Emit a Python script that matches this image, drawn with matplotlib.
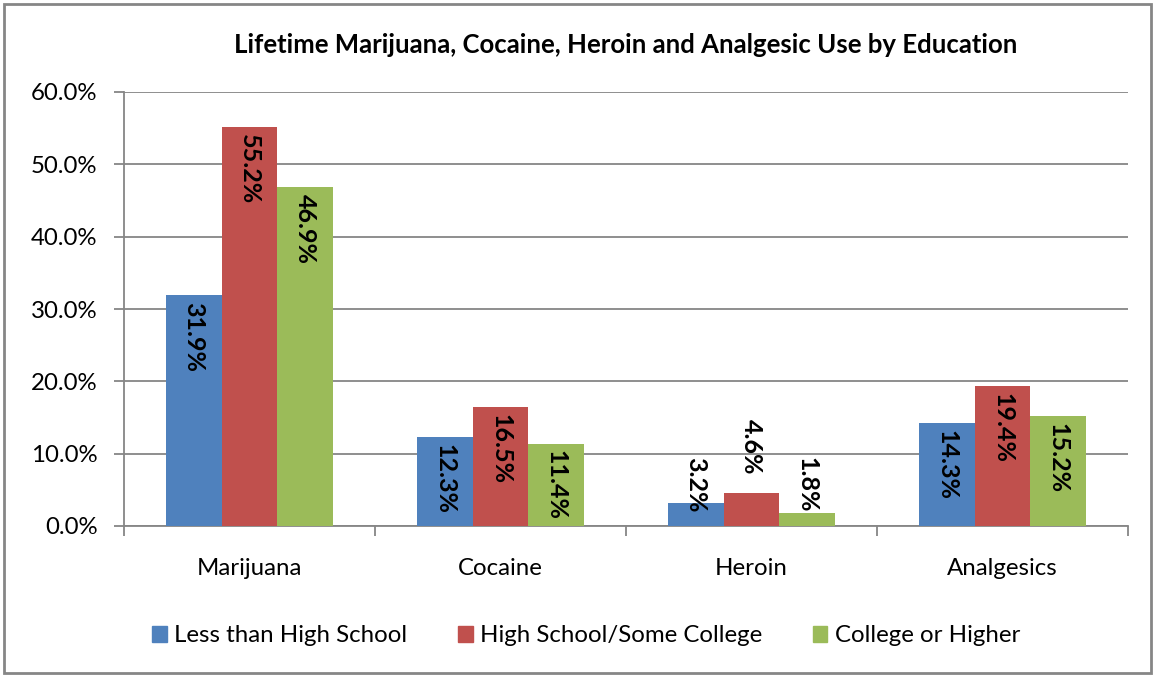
import matplotlib.pyplot as plt
from matplotlib.patches import Patch, Rectangle
import numpy as np

plt.rcParams['font.family'] = ['Lato', 'DejaVu Sans']

categories = ['Marijuana', 'Cocaine', 'Heroin', 'Analgesics']
series_names = ['Less than High School', 'High School/Some College', 'College or Higher']
less_hs = [31.9, 12.3, 3.2, 14.3]
hs_some_college = [55.2, 16.5, 4.6, 19.4]
college_higher = [46.9, 11.4, 1.8, 15.2]
yticks = [0, 10, 20, 30, 40, 50, 60]

colors = ['#4F81BD', '#C0504D', '#9BBB59']
grid_c = '#868686'
fs = 17.3
lab_fs = 18

fig = plt.figure(figsize=(11.55, 6.77), dpi=100)
ax = fig.add_axes([124 / 1155, 1 - 526 / 677, 1004 / 1155, 434 / 677])

x = np.arange(len(categories))
w = 1 / 4.5
all_series = [less_hs, hs_some_college, college_higher]

for k, vals in enumerate(all_series):
    xs = x + (k - 1) * w
    ax.bar(xs, vals, width=w, color=colors[k], zorder=3)
    for i, v in enumerate(vals):
        label = f'{v:.1f}%'
        group = [s[i] for s in all_series]
        if v >= 8:
            ax.annotate(label, (xs[i], v), xytext=(0, -5), textcoords='offset points',
                        rotation=270, ha='center', va='top', fontsize=lab_fs,
                        fontweight='bold', zorder=4)
        elif v == max(group):
            ax.annotate(label, (xs[i], v), xytext=(0, 13), textcoords='offset points',
                        rotation=270, ha='center', va='bottom', fontsize=lab_fs,
                        fontweight='bold', zorder=4)
        else:
            ax.annotate(label, (xs[i], 0), xytext=(0, 10), textcoords='offset points',
                        rotation=270, ha='center', va='bottom', fontsize=lab_fs,
                        fontweight='bold', zorder=4)

ax.set_xlim(-0.5, len(categories) - 0.5)
ax.set_ylim(0, 60)
ax.set_yticks(yticks)
ax.set_yticklabels([f'{t:.1f}%' for t in yticks], fontsize=fs)
ax.yaxis.grid(True, color=grid_c, linewidth=1.3, zorder=0)

ax.set_xticks(np.arange(len(categories) + 1) - 0.5)
ax.set_xticklabels([])
ax.set_xticks(x, minor=True)
ax.set_xticklabels(categories, minor=True, fontsize=fs)
ax.tick_params(axis='x', which='major', length=7, color=grid_c, width=1.3)
ax.tick_params(axis='x', which='minor', length=0, pad=23)
ax.tick_params(axis='y', length=7, color=grid_c, width=1.3, pad=12)

for s in ['top', 'right']:
    ax.spines[s].set_visible(False)
for s in ['left', 'bottom']:
    ax.spines[s].set_color(grid_c)
    ax.spines[s].set_linewidth(1.3)

fig.text(626 / 1155, 1 - 45 / 677, 'Lifetime Marijuana, Cocaine, Heroin and Analgesic Use by Education',
         ha='center', va='center', fontsize=18.5, fontweight='bold')

handles = [Patch(color=c) for c in colors]
fig.legend(handles, series_names, loc='center', bbox_to_anchor=(586 / 1155, 1 - 636 / 677),
           ncol=3, frameon=False, fontsize=fs, handlelength=0.62, handleheight=0.62,
           handletextpad=0.3, columnspacing=2.1)

fig.patches.append(Rectangle((4 / 1155, 4 / 677), 1147 / 1155, 669 / 677, transform=fig.transFigure,
                             fill=False, edgecolor=grid_c, linewidth=2))

fig.savefig('out.png', dpi=100)
